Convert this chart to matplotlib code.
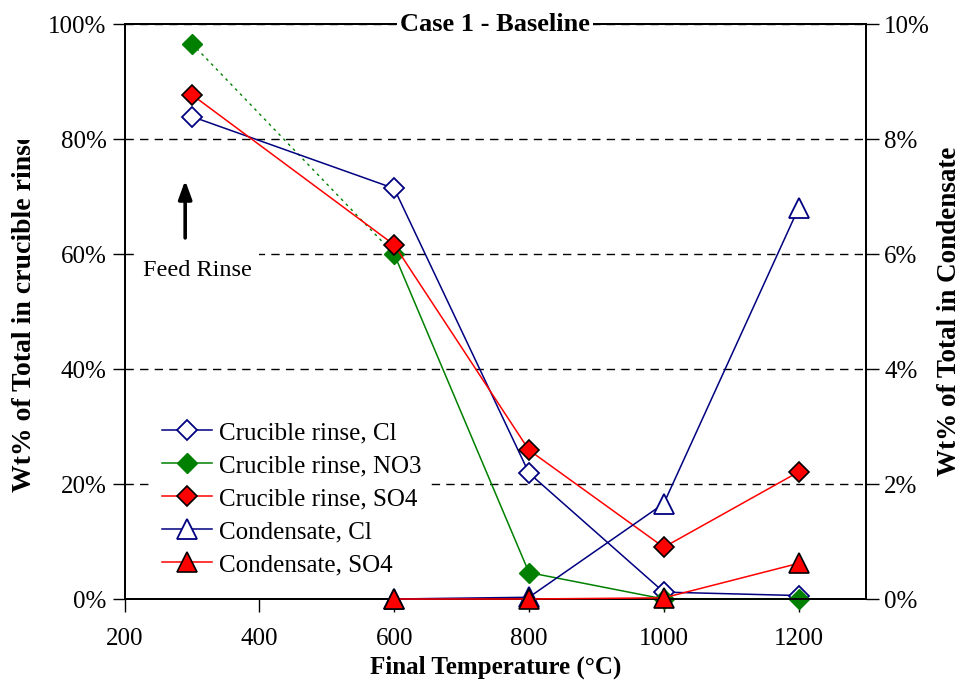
import matplotlib
matplotlib.use("Agg")
import matplotlib.pyplot as plt
from matplotlib.lines import Line2D
from matplotlib.ticker import FuncFormatter
from matplotlib.transforms import Bbox

plt.rcParams["font.family"] = ["Liberation Serif", "DejaVu Serif"]

# Crucible rinse series (left axis, % of total)
temps_rinse = [300, 600, 800, 1000, 1200]
rinse_cl = [83.9, 71.4, 21.9, 1.2, 0.6]
rinse_no3 = [96.6, 60.0, 4.6, 0.0, 0.0]
rinse_so4 = [87.7, 61.6, 25.9, 9.0, 22.1]

# Condensate series (right axis, % of total)
temps_cond = [600, 800, 1000, 1200]
cond_cl = [0.0, 0.03, 1.66, 6.8]
cond_so4 = [0.0, 0.0, 0.02, 0.62]

labels = ["Crucible rinse, Cl", "Crucible rinse, NO3", "Crucible rinse, SO4",
          "Condensate, Cl", "Condensate, SO4"]

NAVY = "#000080"
GREEN = "#008000"
RED = "#FF0000"
LW = 1.1
DMS = 10   # diamond size
TMS = 14   # triangle size

fig = plt.figure(figsize=(9.6, 6.82), dpi=100)
ax = fig.add_axes([0.1297, 0.1217, 0.7724, 0.8431])
ax2 = ax.twinx()

# rinse series
ax.plot(temps_rinse, rinse_cl, color=NAVY, lw=LW, marker="D", ms=DMS,
        mfc="white", mec=NAVY, mew=1.3, clip_on=False, zorder=3)
ax.plot(temps_rinse[:2], rinse_no3[:2], color=GREEN, lw=1.0, ls=(0, (2, 3)),
        zorder=2)
ax.plot(temps_rinse[1:], rinse_no3[1:], color=GREEN, lw=LW, marker="D", ms=DMS,
        mfc=GREEN, mec=GREEN, clip_on=False, zorder=3)
ax.plot(temps_rinse[:1], rinse_no3[:1], ls="none", marker="D", ms=DMS,
        mfc=GREEN, mec=GREEN, clip_on=False, zorder=3)
ax.plot(temps_rinse, rinse_so4, color=RED, lw=LW, marker="D", ms=DMS,
        mfc=RED, mec="black", mew=1.2, clip_on=False, zorder=3)

# condensate series
ax2.plot(temps_cond, cond_cl, color=NAVY, lw=LW, marker="^", ms=TMS,
         mfc="white", mec=NAVY, mew=1.3, clip_on=False, zorder=3)
ax2.plot(temps_cond, cond_so4, color=RED, lw=LW, marker="^", ms=TMS,
         mfc=RED, mec="black", mew=1.2, clip_on=False, zorder=3)

ax.set_xlim(200, 1300)
ax.set_ylim(0, 100)
ax2.set_ylim(0, 10)
ax.set_xticks([200, 400, 600, 800, 1000, 1200])
ax.set_yticks([0, 20, 40, 60, 80, 100])
ax2.set_yticks([0, 2, 4, 6, 8, 10])
pct = FuncFormatter(lambda v, p: f"{v:.0f}%")
ax.yaxis.set_major_formatter(pct)
ax2.yaxis.set_major_formatter(pct)

for a in (ax, ax2):
    a.tick_params(direction="out", length=9, width=1, labelsize=18, pad=4)
    for s in a.spines.values():
        s.set_linewidth(1.3)
ax.tick_params(axis="x", length=9, pad=12)

ax.yaxis.grid(True, color="black", ls=(0, (6, 4.5)), lw=1.0)
ax.set_axisbelow(True)

ax.set_xlabel("Final Temperature (\u00b0C)", fontsize=18, fontweight="bold", labelpad=4)
lab_l = ax.set_ylabel("Wt% of Total in crucible rinse", fontsize=20,
                      fontweight="bold", labelpad=8)
ax2.set_ylabel("Wt% of Total in Condensate", fontsize=19.5, fontweight="bold",
               labelpad=5)

# clip the left label at the top like the original
lab_l.set_clip_on(True)
lab_l.set_clip_box(Bbox.from_extents(0, 0, 120, 682 - 140))

ax2.text(0.5, 1.0, "Case 1 - Baseline", transform=ax2.transAxes, ha="center",
         va="center", fontsize=19, fontweight="bold", zorder=10,
         bbox=dict(facecolor="white", edgecolor="none", pad=2))

# feed rinse annotation
ax.annotate("", xy=(290, 72.8), xytext=(290, 62.8),
            arrowprops=dict(arrowstyle="-|>,head_width=0.4,head_length=1.1",
                            color="black", lw=2.6, shrinkA=0, shrinkB=0), zorder=4)
ax.text(308, 57.2, "Feed Rinse", ha="center", va="center", fontsize=17.5, zorder=4,
        bbox=dict(facecolor="white", edgecolor="none", pad=5))

handles = [
    Line2D([], [], color=NAVY, lw=LW, marker="D", ms=DMS, mfc="white", mec=NAVY, mew=1.3),
    Line2D([], [], color=GREEN, lw=LW, marker="D", ms=DMS, mfc=GREEN, mec=GREEN),
    Line2D([], [], color=RED, lw=LW, marker="D", ms=DMS, mfc=RED, mec="black", mew=1.2),
    Line2D([], [], color=NAVY, lw=LW, marker="^", ms=TMS, mfc="white", mec=NAVY, mew=1.3),
    Line2D([], [], color=RED, lw=LW, marker="^", ms=TMS, mfc=RED, mec="black", mew=1.2),
]
leg = ax2.legend(handles, labels, loc="lower left", bbox_to_anchor=(0.04, 0.027),
                 borderaxespad=0, fontsize=18, frameon=True, fancybox=False,
                 framealpha=1, edgecolor="white", handlelength=2.0,
                 handletextpad=0.28, labelspacing=0.42, borderpad=0.3)
leg.set_zorder(20)

fig.savefig("out.png", dpi=100)
